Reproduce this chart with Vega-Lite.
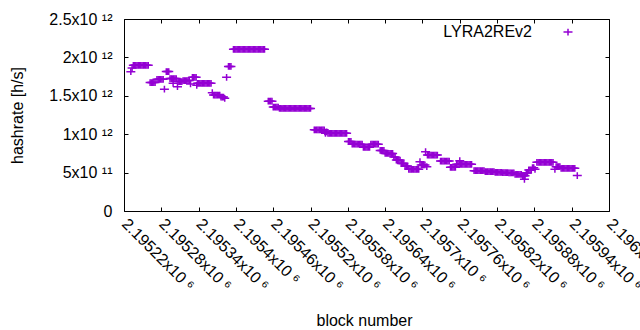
{
  "$schema": "https://vega.github.io/schema/vega-lite/v6.json",
  "width": 485,
  "height": 192,
  "autosize": {"type": "none"},
  "padding": {"left": 124, "top": 19, "right": 31, "bottom": 119},
  "background": "white",
  "config": {
    "font": "Liberation Sans",
    "view": {"stroke": "#000", "strokeWidth": 1},
    "axis": {"grid": false, "domain": false, "tickColor": "#000", "tickSize": -4, "tickWidth": 1, "labelColor": "#000", "labelFont": "Liberation Sans", "labelFontSize": 16, "titleFont": "Liberation Sans", "titleFontSize": 16, "titleFontWeight": "normal", "titleColor": "#000"}
  },
  "data": {
    "values": "b,h\n2195231,1.814e12\n2195233,1.862e12\n2195235,1.897e12\n2195237,1.897e12\n2195239,1.897e12\n2195241,1.897e12\n2195243,1.897e12\n2195245,1.897e12\n2195247,1.897e12\n2195249,1.897e12\n2195251,1.897e12\n2195253,1.897e12\n2195255,1.897e12\n2195257,1.897e12\n2195259,1.897e12\n2195262,1.672e12\n2195264,1.672e12\n2195266,1.672e12\n2195268,1.672e12\n2195270,1.672e12\n2195273,1.715e12\n2195275,1.715e12\n2195277,1.715e12\n2195279,1.715e12\n2195281,1.715e12\n2195283,1.715e12\n2195285,1.586e12\n2195288,1.816e12\n2195290,1.816e12\n2195292,1.816e12\n2195294,1.725e12\n2195296,1.725e12\n2195298,1.725e12\n2195300,1.725e12\n2195302,1.725e12\n2195304,1.725e12\n2195299,1.663e12\n2195306,1.618e12\n2195307,1.686e12\n2195309,1.686e12\n2195311,1.686e12\n2195313,1.686e12\n2195315,1.699e12\n2195317,1.699e12\n2195319,1.699e12\n2195321,1.699e12\n2195323,1.699e12\n2195325,1.699e12\n2195327,1.654e12\n2195330,1.741e12\n2195332,1.741e12\n2195334,1.741e12\n2195336,1.741e12\n2195337,1.637e12\n2195338,1.663e12\n2195340,1.663e12\n2195342,1.663e12\n2195344,1.663e12\n2195346,1.663e12\n2195348,1.663e12\n2195350,1.663e12\n2195352,1.663e12\n2195354,1.663e12\n2195356,1.663e12\n2195358,1.663e12\n2195360,1.663e12\n2195362,1.540e12\n2195364,1.510e12\n2195366,1.510e12\n2195368,1.510e12\n2195370,1.510e12\n2195372,1.510e12\n2195374,1.510e12\n2195376,1.484e12\n2195378,1.484e12\n2195380,1.484e12\n2195382,1.467e12\n2195385,1.741e12\n2195388,1.882e12\n2195390,1.882e12\n2195392,1.882e12\n2195396,2.105e12\n2195398,2.105e12\n2195400,2.105e12\n2195402,2.105e12\n2195404,2.105e12\n2195406,2.105e12\n2195408,2.105e12\n2195410,2.105e12\n2195412,2.105e12\n2195414,2.105e12\n2195416,2.105e12\n2195418,2.105e12\n2195420,2.105e12\n2195422,2.105e12\n2195424,2.105e12\n2195426,2.105e12\n2195428,2.105e12\n2195430,2.105e12\n2195432,2.105e12\n2195434,2.105e12\n2195436,2.105e12\n2195438,2.105e12\n2195440,2.105e12\n2195442,2.105e12\n2195444,2.105e12\n2195446,2.105e12\n2195452,1.430e12\n2195454,1.430e12\n2195456,1.430e12\n2195458,1.430e12\n2195460,1.354e12\n2195462,1.354e12\n2195464,1.354e12\n2195466,1.354e12\n2195468,1.354e12\n2195470,1.336e12\n2195472,1.336e12\n2195474,1.336e12\n2195476,1.336e12\n2195478,1.336e12\n2195480,1.336e12\n2195482,1.336e12\n2195484,1.336e12\n2195486,1.336e12\n2195488,1.336e12\n2195490,1.336e12\n2195492,1.336e12\n2195494,1.336e12\n2195496,1.336e12\n2195498,1.336e12\n2195500,1.336e12\n2195502,1.336e12\n2195504,1.336e12\n2195506,1.336e12\n2195508,1.336e12\n2195510,1.336e12\n2195512,1.336e12\n2195514,1.336e12\n2195516,1.336e12\n2195518,1.336e12\n2195520,1.336e12\n2195526,1.057e12\n2195528,1.057e12\n2195530,1.057e12\n2195532,1.057e12\n2195534,1.057e12\n2195536,1.057e12\n2195538,1.057e12\n2195540,1.057e12\n2195542,1.057e12\n2195543,1.030e12\n2195546,1.030e12\n2195544,1.012e12\n2195548,1.012e12\n2195550,1.012e12\n2195552,1.012e12\n2195554,1.012e12\n2195556,1.012e12\n2195558,1.012e12\n2195560,1.012e12\n2195562,1.012e12\n2195564,1.012e12\n2195566,1.012e12\n2195568,1.012e12\n2195570,1.012e12\n2195572,1.012e12\n2195574,1.012e12\n2195576,1.012e12\n2195578,1.012e12\n2195581,0.905e12\n2195583,0.905e12\n2195585,0.905e12\n2195587,0.870e12\n2195589,0.870e12\n2195591,0.870e12\n2195593,0.870e12\n2195595,0.870e12\n2195597,0.870e12\n2195599,0.870e12\n2195601,0.870e12\n2195603,0.870e12\n2195605,0.829e12\n2195607,0.829e12\n2195609,0.829e12\n2195611,0.829e12\n2195613,0.829e12\n2195615,0.829e12\n2195617,0.870e12\n2195619,0.870e12\n2195621,0.870e12\n2195623,0.870e12\n2195625,0.870e12\n2195627,0.870e12\n2195629,0.870e12\n2195632,0.789e12\n2195634,0.789e12\n2195636,0.789e12\n2195638,0.789e12\n2195640,0.749e12\n2195642,0.749e12\n2195644,0.749e12\n2195646,0.749e12\n2195648,0.749e12\n2195650,0.749e12\n2195652,0.749e12\n2195654,0.703e12\n2195656,0.703e12\n2195658,0.664e12\n2195660,0.664e12\n2195662,0.664e12\n2195664,0.664e12\n2195666,0.618e12\n2195668,0.618e12\n2195670,0.618e12\n2195672,0.586e12\n2195674,0.586e12\n2195676,0.586e12\n2195678,0.542e12\n2195680,0.542e12\n2195682,0.542e12\n2195684,0.542e12\n2195686,0.542e12\n2195688,0.542e12\n2195690,0.542e12\n2195692,0.542e12\n2195694,0.542e12\n2195696,0.642e12\n2195698,0.599e12\n2195700,0.599e12\n2195702,0.599e12\n2195704,0.599e12\n2195705,0.772e12\n2195707,0.577e12\n2195708,0.729e12\n2195710,0.729e12\n2195712,0.729e12\n2195714,0.729e12\n2195716,0.729e12\n2195718,0.729e12\n2195720,0.729e12\n2195722,0.729e12\n2195724,0.729e12\n2195729,0.651e12\n2195731,0.651e12\n2195733,0.651e12\n2195735,0.651e12\n2195737,0.651e12\n2195739,0.651e12\n2195741,0.651e12\n2195743,0.651e12\n2195745,0.569e12\n2195747,0.569e12\n2195749,0.569e12\n2195751,0.569e12\n2195753,0.569e12\n2195755,0.608e12\n2195757,0.608e12\n2195759,0.608e12\n2195761,0.608e12\n2195763,0.608e12\n2195765,0.608e12\n2195767,0.608e12\n2195769,0.608e12\n2195771,0.608e12\n2195773,0.608e12\n2195775,0.608e12\n2195777,0.608e12\n2195779,0.608e12\n2195760,0.655e12\n2195783,0.525e12\n2195785,0.525e12\n2195787,0.525e12\n2195789,0.525e12\n2195791,0.525e12\n2195793,0.525e12\n2195795,0.525e12\n2195797,0.525e12\n2195799,0.525e12\n2195801,0.514e12\n2195803,0.514e12\n2195805,0.514e12\n2195807,0.514e12\n2195809,0.514e12\n2195811,0.514e12\n2195813,0.514e12\n2195815,0.514e12\n2195817,0.504e12\n2195819,0.504e12\n2195821,0.504e12\n2195823,0.504e12\n2195825,0.504e12\n2195827,0.504e12\n2195829,0.499e12\n2195831,0.499e12\n2195833,0.499e12\n2195835,0.499e12\n2195837,0.499e12\n2195839,0.495e12\n2195841,0.495e12\n2195843,0.495e12\n2195845,0.495e12\n2195847,0.495e12\n2195849,0.478e12\n2195851,0.478e12\n2195853,0.478e12\n2195855,0.478e12\n2195857,0.478e12\n2195859,0.478e12\n2195861,0.460e12\n2195863,0.460e12\n2195865,0.460e12\n2195864,0.413e12\n2195867,0.495e12\n2195869,0.495e12\n2195871,0.534e12\n2195873,0.534e12\n2195875,0.534e12\n2195877,0.564e12\n2195879,0.564e12\n2195881,0.543e12\n2195884,0.634e12\n2195886,0.634e12\n2195888,0.634e12\n2195890,0.634e12\n2195892,0.634e12\n2195894,0.634e12\n2195896,0.634e12\n2195898,0.634e12\n2195900,0.634e12\n2195902,0.634e12\n2195904,0.634e12\n2195906,0.634e12\n2195908,0.634e12\n2195910,0.634e12\n2195913,0.543e12\n2195915,0.577e12\n2195917,0.577e12\n2195919,0.577e12\n2195921,0.577e12\n2195923,0.556e12\n2195925,0.556e12\n2195927,0.556e12\n2195929,0.556e12\n2195931,0.556e12\n2195933,0.556e12\n2195935,0.556e12\n2195937,0.556e12\n2195939,0.556e12\n2195941,0.556e12\n2195943,0.556e12\n2195945,0.556e12\n2195949,0.462e12",
    "format": {"type": "csv", "parse": {"b": "number", "h": "number"}}
  },
  "layer": [
    {
      "mark": {"type": "point", "shape": "M-1,0L1,0M0,-0.75L0,0.75", "filled": false, "size": 81, "strokeWidth": 1.5, "opacity": 1},
      "encoding": {
        "x": {
          "field": "b", "type": "quantitative",
          "scale": {"domain": [2195220, 2196000], "nice": false, "zero": false},
          "axis": {
            "orient": "bottom",
            "values": [2195220, 2195280, 2195340, 2195400, 2195460, 2195520, 2195580, 2195640, 2195700, 2195760, 2195820, 2195880, 2195940, 2196000],
            "labelExpr": "format(datum.value / 1e6, '.5~f') + 'x10 ⁶'",
            "labelAngle": 45, "labelAlign": "left", "labelBaseline": "middle",
            "labelPadding": 14, "labelOverlap": false, "labelFlush": false, "labelBound": false,
            "title": "block number", "titleX": 240, "titleY": 114, "titleBaseline": "alphabetic", "titleAlign": "center"
          }
        },
        "y": {
          "field": "h", "type": "quantitative",
          "scale": {"domain": [0, 2500000000000], "nice": false, "zero": false},
          "axis": {
            "orient": "left",
            "values": [0, 500000000000, 1000000000000, 1500000000000, 2000000000000, 2500000000000],
            "labelExpr": "datum.value == 0 ? '0' : (datum.value < 1e12 ? format(datum.value / 1e11, '~g') + 'x10 ¹¹' : format(datum.value / 1e12, '~g') + 'x10 ¹²')",
            "labelPadding": 16, "labelOverlap": false, "labelFlush": false, "labelBound": false,
            "title": "hashrate [h/s]", "titleX": -107, "titleY": 96, "titleAngle": -90, "titleBaseline": "middle", "titleAlign": "center"
          }
        },
        "color": {
          "datum": "LYRA2REv2", "type": "nominal",
          "scale": {"range": ["#9400d3"]},
          "legend": {
            "orient": "none", "legendX": 436, "legendY": 5, "title": null,
            "symbolType": "M-1,0L1,0M0,-0.75L0,0.75", "symbolSize": 81, "symbolStrokeWidth": 1.5,
            "labelAlign": "right", "labelOffset": -44, "labelFontSize": 16, "labelFont": "Liberation Sans", "labelColor": "#000", "labelLimit": 0, "padding": 0
          }
        }
      }
    },
    {
      "mark": {"type": "point", "opacity": 0},
      "encoding": {
        "x": {
          "field": "b", "type": "quantitative",
          "scale": {"domain": [2195220, 2196000], "nice": false, "zero": false},
          "axis": {"orient": "top", "values": [2195220, 2195280, 2195340, 2195400, 2195460, 2195520, 2195580, 2195640, 2195700, 2195760, 2195820, 2195880, 2195940, 2196000], "labels": false, "title": null}
        },
        "y": {
          "field": "h", "type": "quantitative",
          "scale": {"domain": [0, 2500000000000], "nice": false, "zero": false},
          "axis": {"orient": "right", "values": [0, 500000000000, 1000000000000, 1500000000000, 2000000000000, 2500000000000], "labels": false, "title": null}
        }
      }
    }
  ],
  "resolve": {"axis": {"x": "independent", "y": "independent"}}
}
